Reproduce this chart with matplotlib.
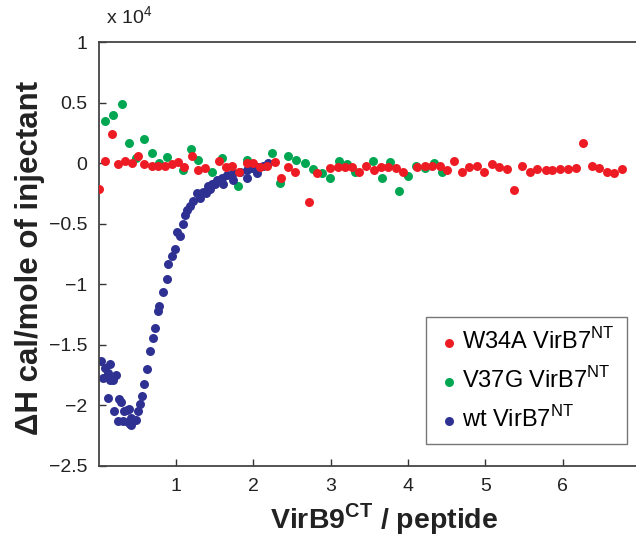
# ITC titration: heat per injection vs. molar ratio
# three VirB7 variants titrated with VirB9 peptide

import matplotlib
matplotlib.use("Agg")
import matplotlib.pyplot as plt
from matplotlib.ticker import FuncFormatter

plt.rcParams["font.family"] = ["Liberation Sans", "DejaVu Sans"]

# heats are in units of 10^4 cal/mole of injectant
w34a_x = [0.00, 0.08, 0.17, 0.25, 0.34, 0.43, 0.51, 0.59, 0.69, 0.77, 0.86, 0.95,
          1.03, 1.10, 1.21, 1.29, 1.38, 1.56, 1.65, 1.73, 1.82, 1.92, 2.00, 2.09,
          2.18, 2.28, 2.36, 2.45, 2.54, 2.72, 2.83, 2.99, 3.10, 3.19, 3.28, 3.37,
          3.46, 3.56, 3.65, 3.74, 3.85, 3.94, 4.12, 4.22, 4.31, 4.42, 4.51, 4.60,
          4.70, 4.79, 4.90, 4.99, 5.09, 5.18, 5.28, 5.37, 5.48, 5.58, 5.67, 5.78,
          5.87, 5.97, 6.07, 6.18, 6.27, 6.38, 6.47, 6.57, 6.67, 6.77]
w34a_y = [-0.21, 0.02, 0.24, -0.01, 0.02, 0.00, 0.06, -0.01, -0.02, -0.02, -0.02, -0.01,
          0.01, -0.03, 0.06, -0.06, -0.04, 0.02, -0.03, -0.02, -0.07, 0.00, 0.00, -0.03,
          -0.02, 0.01, -0.12, -0.03, -0.07, -0.32, -0.08, -0.04, -0.03, -0.03, -0.03, -0.07,
          -0.02, -0.06, -0.03, -0.03, -0.04, -0.07, -0.03, -0.02, -0.02, -0.02, -0.06, 0.02,
          -0.07, -0.03, -0.02, -0.07, -0.01, -0.03, -0.05, -0.22, -0.02, -0.07, -0.05, -0.06,
          -0.06, -0.05, -0.05, -0.04, 0.17, -0.02, -0.04, -0.07, -0.08, -0.05]

v37g_x = [0.08, 0.19, 0.30, 0.39, 0.48, 0.59, 0.69, 0.78, 0.88, 1.09, 1.20, 1.29,
          1.47, 1.60, 1.80, 1.92, 2.24, 2.35, 2.45, 2.55, 2.67, 2.77, 2.89, 2.99,
          3.11, 3.21, 3.32, 3.55, 3.67, 3.77, 3.89, 4.00, 4.11, 4.22, 4.34, 4.44]
v37g_y = [0.35, 0.40, 0.49, 0.17, 0.04, 0.20, 0.08, 0.00, 0.05, -0.06, 0.12, 0.03,
          -0.07, 0.04, -0.19, 0.03, 0.08, -0.16, 0.06, 0.03, 0.00, -0.05, -0.08, -0.12,
          0.02, -0.01, -0.07, 0.02, -0.12, 0.01, -0.23, -0.11, -0.02, -0.04, 0.00, -0.07]

wt_x = [0.03, 0.08, 0.06, 0.15, 0.12, 0.19, 0.23, 0.15, 0.12, 0.26, 0.29, 0.20,
        0.25, 0.32, 0.33, 0.37, 0.39, 0.42, 0.41, 0.38, 0.42, 0.48, 0.51, 0.54,
        0.56, 0.59, 0.63, 0.66, 0.70, 0.73, 0.77, 0.78, 0.83, 0.88, 0.90, 0.95,
        0.99, 1.01, 1.05, 1.09, 1.12, 1.14, 1.18, 1.22, 1.27, 1.31, 1.35, 1.39,
        1.42, 1.47, 1.51, 1.44, 1.53, 1.60, 1.61, 1.66, 1.74, 1.74, 1.83, 1.92,
        1.92, 1.98, 2.05, 2.06, 2.13, 2.19]
wt_y = [-1.63, -1.69, -1.77, -1.66, -1.73, -1.79, -1.75, -1.79, -1.94, -1.95, -1.97, -2.05,
        -2.13, -2.13, -2.05, -2.04, -2.03, -2.10, -2.15, -2.14, -2.16, -2.12, -2.05, -1.99,
        -1.92, -1.82, -1.70, -1.55, -1.44, -1.36, -1.22, -1.18, -1.06, -0.96, -0.83, -0.77,
        -0.71, -0.57, -0.60, -0.50, -0.43, -0.39, -0.35, -0.31, -0.25, -0.29, -0.24, -0.25,
        -0.19, -0.17, -0.17, -0.21, -0.14, -0.12, -0.17, -0.10, -0.08, -0.14, -0.07, -0.06,
        -0.12, -0.04, -0.08, -0.03, -0.02, 0.00]

x_ticks = [1, 2, 3, 4, 5, 6]
y_ticks = [1, 0.5, 0, -0.5, -1, -1.5, -2, -2.5]

red = "#ed1c24"
green = "#00a651"
blue = "#2e3192"

fig = plt.figure(figsize=(6.36, 5.36), dpi=100)
ax = fig.add_axes([0.155, 0.1306, 0.845, 0.791])

ax.scatter(w34a_x, w34a_y, s=42, color=red, linewidths=0, label="W34A VirB7$^{\\mathregular{NT}}$", zorder=3)
ax.scatter(v37g_x, v37g_y, s=42, color=green, linewidths=0, label="V37G VirB7$^{\\mathregular{NT}}$", zorder=2)
ax.scatter(wt_x, wt_y, s=42, color=blue, linewidths=0, label="wt VirB7$^{\\mathregular{NT}}$", zorder=2)

ax.set_xlim(0, 6.95)
ax.set_ylim(-2.5, 1)
ax.set_xticks(x_ticks)
ax.set_yticks(y_ticks)
ax.yaxis.set_major_formatter(FuncFormatter(lambda v, p: ("%g" % v).replace("-", "\u2212")))
ax.tick_params(direction="in", length=5, width=1, colors="#333333", labelsize=14,
               labelcolor="#222222")
ax.tick_params(axis="y", pad=8)
ax.tick_params(axis="x", pad=9)

for side in ["left", "bottom", "top"]:
    ax.spines[side].set_color("#444444")
    ax.spines[side].set_linewidth(1.3)
ax.spines["right"].set_visible(False)

ax.set_xlabel("VirB9$^{\\mathregular{CT}}$ / peptide", fontsize=20.5, fontweight="bold",
              color="#222222")
ax.xaxis.set_label_coords(0.531, -0.125, transform=ax.transAxes)
ax.xaxis.label.set_verticalalignment("center")
ax.set_ylabel("\u0394H cal/mole of injectant", fontsize=22.5, fontweight="bold",
              color="#222222")
ax.yaxis.set_label_coords(-0.127, 0.49, transform=ax.transAxes)
ax.yaxis.label.set_verticalalignment("center")

fig.text(0.166, 0.955, "x 10$^{\\mathregular{4}}$", fontsize=14, color="#222222")

leg = ax.legend(loc="lower right", bbox_to_anchor=(0.983, 0.052), fontsize=17,
                frameon=True, fancybox=False, handletextpad=0.05, borderpad=0.5,
                labelspacing=0.55, handlelength=1.0, borderaxespad=0)
leg.get_frame().set_edgecolor("#555555")
leg.get_frame().set_linewidth(1.0)

fig.savefig("out.png", dpi=100)
